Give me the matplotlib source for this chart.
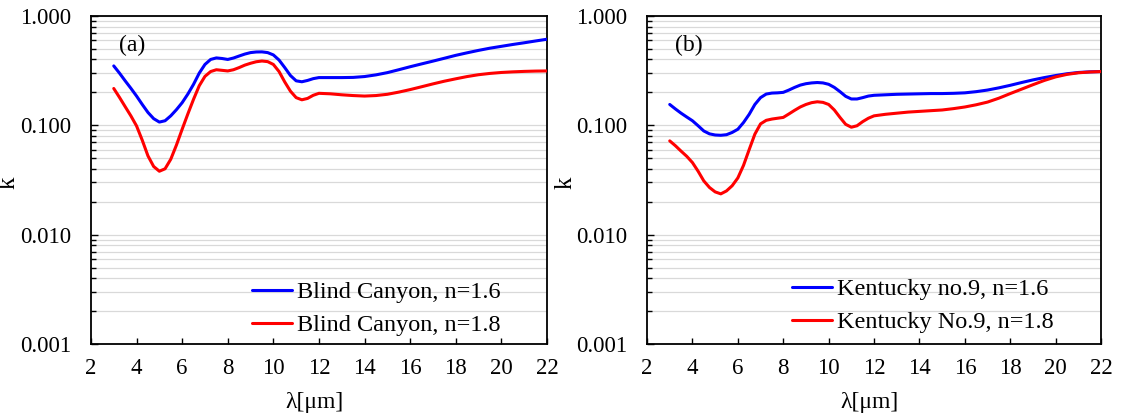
import matplotlib
matplotlib.use("Agg")
import matplotlib.pyplot as plt
from matplotlib.ticker import LogLocator, FixedFormatter, FixedLocator, NullFormatter

plt.rcParams['font.family'] = ['Liberation Serif', 'DejaVu Serif']

# wavelength grid (um)
lam = [3.0, 3.25, 3.5, 3.75, 4.0, 4.25, 4.5, 4.75, 5.0, 5.25, 5.5, 5.75,
       6.0, 6.25, 6.5, 6.75, 7.0, 7.25, 7.5, 7.75, 8.0, 8.25, 8.5, 8.75,
       9.0, 9.25, 9.5, 9.75, 10.0, 10.25, 10.5, 10.75, 11.0, 11.25, 11.5,
       11.75, 12.0, 12.5, 13.0, 13.5, 14.0, 14.5, 15.0, 15.5, 16.0, 16.5,
       17.0, 17.5, 18.0, 18.5, 19.0, 19.5, 20.0, 20.5, 21.0, 21.5, 22.0]

# (a) Blind Canyon
bc_16 = [0.349, 0.30, 0.255, 0.218, 0.185, 0.155, 0.131, 0.115, 0.107, 0.110,
         0.122, 0.139, 0.161, 0.193, 0.237, 0.30, 0.36, 0.40, 0.413, 0.408,
         0.40, 0.412, 0.43, 0.448, 0.462, 0.468, 0.469, 0.462, 0.44, 0.395,
         0.337, 0.285, 0.255, 0.25, 0.257, 0.267, 0.273,
         0.273, 0.273, 0.274, 0.279, 0.289, 0.303, 0.322, 0.343, 0.364,
         0.386, 0.41, 0.436, 0.46, 0.484, 0.507, 0.527, 0.548, 0.568, 0.59,
         0.612]
bc_18 = [0.217, 0.18, 0.148, 0.122, 0.0986, 0.073, 0.0525, 0.042, 0.038, 0.040,
         0.0489, 0.066, 0.092, 0.127, 0.173, 0.23, 0.28, 0.31, 0.322, 0.318,
         0.314, 0.322, 0.337, 0.355, 0.369, 0.381, 0.387, 0.382, 0.36, 0.31,
         0.249, 0.205, 0.179, 0.171, 0.176, 0.188, 0.196,
         0.194, 0.19, 0.187, 0.185, 0.187, 0.192, 0.201, 0.212, 0.225,
         0.239, 0.253, 0.266, 0.279, 0.29, 0.298, 0.304, 0.308, 0.311, 0.313,
         0.314]

# (b) Kentucky No.9
kt_16 = [0.155, 0.141, 0.129, 0.119, 0.11, 0.099, 0.0887, 0.0835, 0.0815,
         0.081, 0.082, 0.086, 0.092, 0.106, 0.126, 0.155, 0.179, 0.193, 0.197,
         0.198, 0.20, 0.21, 0.222, 0.233, 0.24, 0.244, 0.246, 0.244, 0.237,
         0.222, 0.203, 0.184, 0.174, 0.174, 0.179, 0.185, 0.188,
         0.19, 0.192, 0.193, 0.194, 0.195, 0.195, 0.196, 0.198, 0.203,
         0.21, 0.22, 0.232, 0.246, 0.26, 0.273, 0.285, 0.296, 0.304, 0.308,
         0.31]
kt_18 = [0.072, 0.065, 0.058, 0.052, 0.0456, 0.038, 0.031, 0.027, 0.0246,
         0.0236, 0.0251, 0.028, 0.033, 0.043, 0.060, 0.083, 0.103, 0.111,
         0.114, 0.116, 0.118, 0.127, 0.137, 0.147, 0.155, 0.161, 0.164, 0.162,
         0.155, 0.138, 0.118, 0.102, 0.096, 0.099, 0.108, 0.116, 0.122,
         0.126, 0.129, 0.132, 0.134, 0.136, 0.138, 0.142, 0.147, 0.154,
         0.163, 0.177, 0.195, 0.214, 0.235, 0.257, 0.277, 0.292, 0.302, 0.307,
         0.31]

x_ticks = [2, 4, 6, 8, 10, 12, 14, 16, 18, 20, 22]
y_ticks = [0.001, 0.01, 0.1, 1.0]
y_ticklabels = ['0.001', '0.010', '0.100', '1.000']

panels = [
    ('(a)', bc_16, bc_18, 'Blind Canyon, n=1.6', 'Blind Canyon, n=1.8',
     [0.0805, 0.179, 0.4035, 0.783], (0.353, 0.107)),
    ('(b)', kt_16, kt_18, 'Kentucky no.9, n=1.6', 'Kentucky No.9, n=1.8',
     [0.5726, 0.179, 0.4018, 0.783], (0.319, 0.117)),
]

fig = plt.figure(figsize=(11.30, 4.19), dpi=100)
FS_TICK = 16.5
FS_LEG = 17.5
FS_LAB = 17

for tag, s16, s18, lab16, lab18, rect, leg_anchor in panels:
    ax = fig.add_axes(rect)
    ax.set_yscale('log')
    ax.set_xlim(2, 22)
    ax.set_ylim(0.001, 1.0)
    ax.plot(lam, s16, color='#0000FF', lw=2.2, label=lab16, zorder=3,
            solid_joinstyle='round', solid_capstyle='round')
    ax.plot(lam, s18, color='#FF0000', lw=2.2, label=lab18, zorder=3,
            solid_joinstyle='round', solid_capstyle='round')

    ax.xaxis.set_major_locator(FixedLocator(x_ticks))
    ax.set_xticklabels([str(t) for t in x_ticks])
    ax.yaxis.set_major_locator(FixedLocator(y_ticks))
    ax.yaxis.set_major_formatter(FixedFormatter(y_ticklabels))
    ax.yaxis.set_minor_locator(LogLocator(base=10, subs=range(2, 10)))
    ax.yaxis.set_minor_formatter(NullFormatter())

    ax.grid(True, axis='y', which='both', color='#d9d9d9', lw=0.9, zorder=0)
    ax.set_axisbelow(True)

    ax.tick_params(axis='x', which='major', direction='in', length=4.5,
                   width=1, labelsize=FS_TICK, pad=10, top=False)
    ax.tick_params(axis='y', which='major', direction='in', length=5,
                   width=1, labelsize=FS_TICK, pad=14)
    ax.tick_params(axis='y', which='minor', direction='in', length=3.5,
                   width=1)
    for sp in ax.spines.values():
        sp.set_linewidth(1.3)
        sp.set_color('black')

    ax.set_ylabel('k', fontsize=FS_LAB + 1)
    ax.yaxis.set_label_coords(-0.156, 0.49)
    ax.set_xlabel('λ[μm]', fontsize=FS_LAB)
    ax.xaxis.set_label_coords(0.49, -0.145)

    ax.text(0.061, 0.91, tag, transform=ax.transAxes, fontsize=FS_LAB,
            va='center', ha='left')

    ax.legend(loc='center left', bbox_to_anchor=leg_anchor, frameon=False,
              fontsize=FS_LEG, handlelength=1.65, handletextpad=0.2,
              labelspacing=0.45, borderpad=0, borderaxespad=0)

fig.savefig('out.png', dpi=100)
